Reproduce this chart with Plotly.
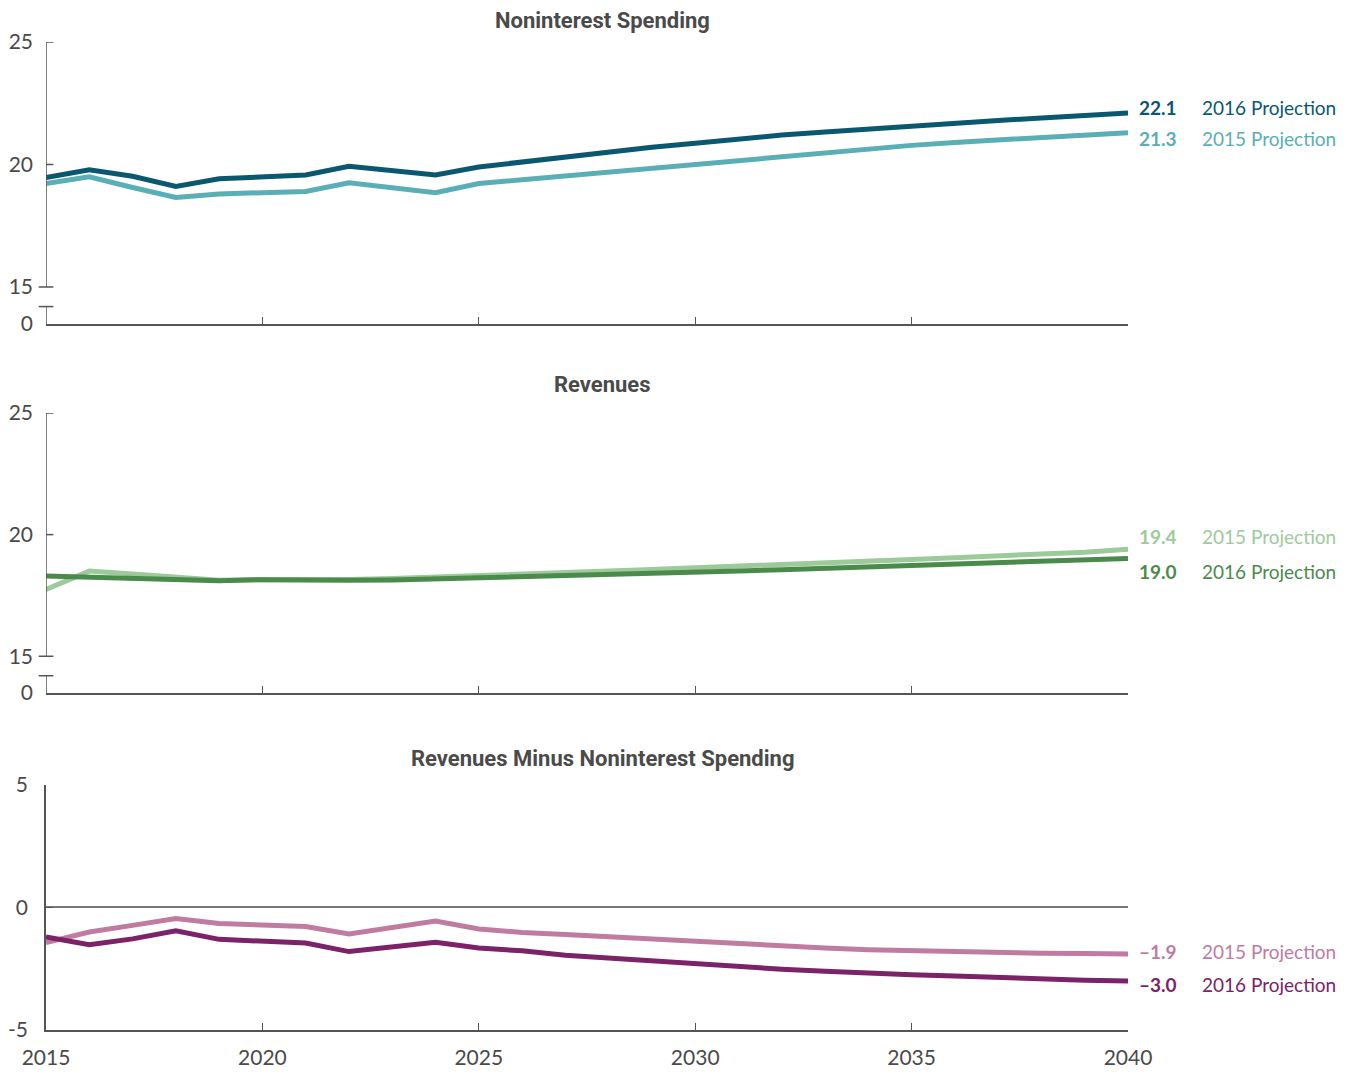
import plotly.graph_objects as go

years = list(range(2015, 2041))

# Noninterest spending, percent of GDP
nis_2016 = [19.47, 19.78, 19.52, 19.10, 19.42, 19.50, 19.57, 19.93, 19.77, 19.57,
            19.90, 20.10, 20.34, 20.50, 20.70, 20.87, 21.05, 21.20, 21.33, 21.46,
            21.58, 21.70, 21.80, 21.90, 22.00, 22.10]
nis_2015 = [19.22, 19.50, 19.06, 18.65, 18.80, 18.85, 18.90, 19.25, 19.05, 18.85,
            19.22, 19.38, 19.52, 19.68, 19.85, 20.02, 20.18, 20.35, 20.50, 20.65,
            20.78, 20.90, 21.00, 21.10, 21.20, 21.30]

# Revenues
rev_2015 = [17.75, 18.50, 18.38, 18.25, 18.12, 18.15, 18.13, 18.16, 18.20, 18.25,
            18.32, 18.37, 18.43, 18.50, 18.57, 18.63, 18.70, 18.77, 18.84, 18.91,
            18.98, 19.05, 19.12, 19.20, 19.28, 19.40]
rev_2016 = [18.30, 18.25, 18.22, 18.17, 18.10, 18.15, 18.12, 18.12, 18.13, 18.17,
            18.22, 18.27, 18.30, 18.35, 18.40, 18.45, 18.50, 18.56, 18.62, 18.68,
            18.74, 18.80, 18.86, 18.92, 18.97, 19.02]

# Revenues minus noninterest spending
diff_2015 = [-1.43, -1.00, -0.73, -0.45, -0.65, -0.72, -0.78, -1.08, -0.82, -0.55,
             -0.88, -1.02, -1.10, -1.20, -1.30, -1.40, -1.50, -1.60, -1.65, -1.72,
             -1.77, -1.82, -1.86, -1.87, -1.88, -1.90]
diff_2016 = [-1.20, -1.52, -1.28, -0.95, -1.30, -1.36, -1.45, -1.80, -1.63, -1.42,
             -1.65, -1.77, -1.95, -2.07, -2.20, -2.30, -2.42, -2.52, -2.60, -2.70,
             -2.75, -2.80, -2.87, -2.92, -2.97, -3.00]

end_labels = ["22.1", "21.3", "19.4", "19.0", "\u20131.9", "\u20133.0"]

AX = '#555555'
TXT = '#4a4a4a'
FONT = 'Lato, Roboto, sans-serif'
TITLE_FONT = 'Liberation Sans Narrow, Arial Narrow, Roboto, sans-serif'

BREAK_LO = 13.49   # value shown as "0" below the axis break
BREAK_CAP = 14.2

fig = go.Figure()

# (xaxis, yaxis, upper series, colour, name, lower series, colour, name, dark is upper?)
panels = [
    ('x', 'y', nis_2016, '#0a5870', '2016 Projection', nis_2015, '#5aaeb5', '2015 Projection', True),
    ('x2', 'y2', rev_2015, '#9dca9b', '2015 Projection', rev_2016, '#4a8a4b', '2016 Projection', False),
    ('x3', 'y3', diff_2015, '#c07ba1', '2015 Projection', diff_2016, '#7b2268', '2016 Projection', False),
]
# label shifts: first label above, second below
shifts = [(6, -6), (13, -13), (3, -4)]

for i, (xa, ya, s1, c1, n1, s2, c2, n2, dark_first) in enumerate(panels):
    order = [(s2, c2), (s1, c1)] if dark_first else [(s1, c1), (s2, c2)]
    for s, c in order:
        fig.add_trace(go.Scatter(x=years, y=s, mode='lines', xaxis=xa, yaxis=ya,
                                 line=dict(color=c, width=5), showlegend=False,
                                 hoverinfo='skip'))
    lab1 = end_labels[2 * i]
    lab2 = end_labels[2 * i + 1]
    for s, c, n, lab, sh in [(s1, c1, n1, lab1, shifts[i][0]), (s2, c2, n2, lab2, shifts[i][1])]:
        fig.add_annotation(x=years[-1], y=s[-1], xref=xa, yref=ya, text='<b>' + lab + '</b>',
                           showarrow=False, xanchor='left', xshift=9, yshift=sh,
                           font=dict(family=FONT, size=19, color=c))
        fig.add_annotation(x=years[-1], y=s[-1], xref=xa, yref=ya, text=n,
                           showarrow=False, xanchor='left', xshift=72, yshift=sh,
                           font=dict(family=FONT, size=19, color=c))

# broken y axes for the first two panels
for ya, xa in [('y', 'x'), ('y2', 'x2')]:
    fig.add_shape(type='line', xref=xa, yref=ya, x0=2015, x1=2015, y0=15, y1=25,
                  line=dict(color=AX, width=1.5))
    fig.add_shape(type='line', xref=xa, yref=ya, x0=2015, x1=2015, y0=BREAK_LO, y1=BREAK_CAP,
                  line=dict(color=AX, width=1.5))
    for yv in [15, BREAK_CAP]:
        fig.add_shape(type='line', xref=xa + ' domain', yref=ya, x0=-0.0068, x1=0.0068,
                      y0=yv, y1=yv, line=dict(color=AX, width=1.5))
    for yv in [20, 25]:
        fig.add_shape(type='line', xref=xa + ' domain', yref=ya, x0=0, x1=0.0068,
                      y0=yv, y1=yv, line=dict(color=AX, width=1.5))

titles = [('Noninterest Spending', 1.022), ('Revenues', 0.653),
          ('Revenues Minus Noninterest Spending', 0.2753)]
for t, yp in titles:
    fig.add_annotation(x=0.514, y=yp, xref='paper', yref='paper', text='<b>' + t + '</b>',
                       showarrow=False, xanchor='center', yanchor='middle',
                       font=dict(family=TITLE_FONT, size=22, color=TXT))

xcommon = dict(range=[2015, 2040], showline=True, linecolor=AX, linewidth=1.5,
               ticks='inside', ticklen=7, tickcolor=AX, tickwidth=1.2,
               tickvals=[2015, 2020, 2025, 2030, 2035, 2040], showgrid=False,
               zeroline=False, automargin=False, ticklabelstandoff=8,
               tickfont=dict(family=FONT, size=21, color=TXT))

ybroken = dict(range=[BREAK_LO, 25], showline=False, showgrid=False, zeroline=False,
               tickvals=[BREAK_LO, 15, 20, 25], ticktext=['0', '15', '20', '25'],
               ticks='', ticklabelstandoff=12, automargin=False,
               tickfont=dict(family=FONT, size=21, color=TXT))

fig.update_layout(
    width=1341, height=1064,
    margin=dict(l=38, r=221, t=34, b=42),
    plot_bgcolor='white', paper_bgcolor='white',
    xaxis=dict(xcommon, domain=[0, 1], anchor='y', showticklabels=False),
    xaxis2=dict(xcommon, domain=[0, 1], anchor='y2', showticklabels=False),
    xaxis3=dict(xcommon, domain=[0, 1], anchor='y3'),
    yaxis=dict(ybroken, domain=[0.7146, 1], anchor='x'),
    yaxis2=dict(ybroken, domain=[0.3411, 0.6245], anchor='x2'),
    yaxis3=dict(range=[-5, 5], domain=[0, 0.248], anchor='x3', showline=True,
                linecolor=AX, linewidth=1.5, showgrid=False, zeroline=True,
                zerolinecolor='#777777', zerolinewidth=1.5, tickvals=[-5, 0, 5],
                ticktext=['-5', '0', '5'], ticks='inside', ticklen=7, tickcolor=AX,
                ticklabelstandoff=12, automargin=False,
                tickfont=dict(family=FONT, size=21, color=TXT)),
)

fig.write_html("out.html")
